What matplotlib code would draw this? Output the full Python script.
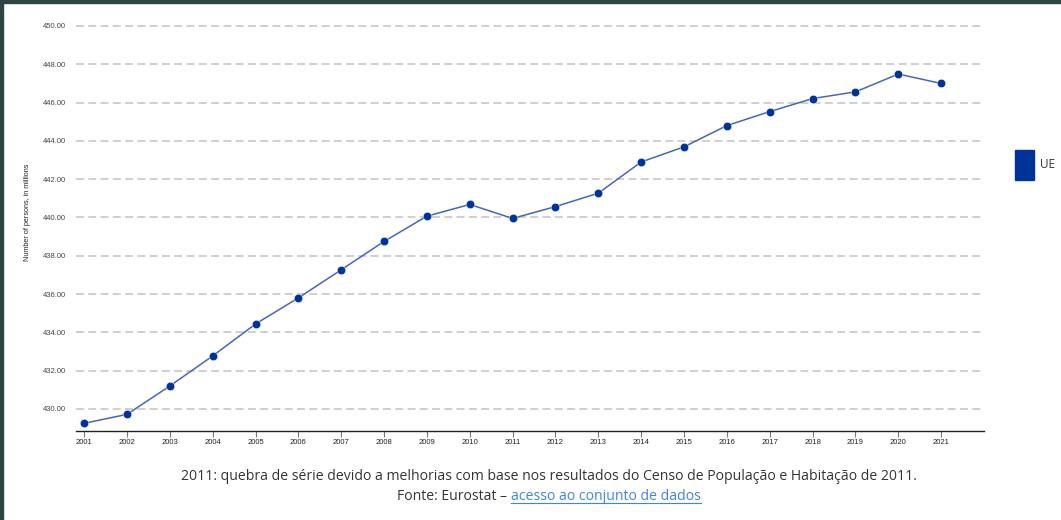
import matplotlib
matplotlib.use("Agg")
import matplotlib.pyplot as plt
from matplotlib.patches import Rectangle

# EU population, millions
years = list(range(2001, 2022))
population = [429.25, 429.72, 431.20, 432.77, 434.44, 435.80, 437.27,
              438.75, 440.07, 440.68, 439.95, 440.57, 441.27, 442.90,
              443.69, 444.80, 445.53, 446.21, 446.56, 447.49, 447.00]
yticks = [430, 432, 434, 436, 438, 440, 442, 444, 446, 448, 450]
series_name = "UE"
ylabel = "Number of persons, in millions"
note = ("2011: quebra de série devido a melhorias com base nos resultados "
        "do Censo de População e Habitação de 2011.")
source_prefix = "Fonte: Eurostat – "
source_link = "acesso ao conjunto de dados"

W, H = 1061, 520
fig = plt.figure(figsize=(W / 100, H / 100), dpi=100)
fig.patch.set_facecolor("white")

# dark page border on top and left
fig.patches.append(Rectangle((0, 1 - 3 / H), 1, 3 / H, transform=fig.transFigure,
                             color="#2f4544", zorder=0))
fig.patches.append(Rectangle((0, 0), 3 / W, 1, transform=fig.transFigure,
                             color="#2f4544", zorder=0))

ax = fig.add_axes([76 / W, 89 / H, (984 - 76) / W, (431 - 26) / H])

ax.plot(years, population, "-", color="#4466bb", linewidth=1.1, zorder=3)
ax.plot(years, population, "o", color="#003399", markersize=6,
        markeredgecolor="white", markeredgewidth=0.3, zorder=4)

ax.set_xlim(2000.81, 2022.0)
ax.set_ylim(428.85, 450)

ax.set_yticks(yticks)
ax.set_yticklabels(["%.2f" % v for v in yticks], fontsize=5.5,
                   family="Liberation Sans", color="#444444")
ax.tick_params(axis="y", length=0, pad=7)
ax.set_xticks(years)
ax.set_xticklabels([str(y) for y in years], fontsize=5.5,
                   family="Liberation Sans", color="#222222")
ax.tick_params(axis="x", length=4, width=0.8, color="#777777", pad=2)

ax.grid(axis="y", color="#cccccc", linestyle=(0, (4.4, 2.4)), linewidth=1.3)
for gl in ax.get_ygridlines():
    gl.set_clip_on(False)
ax.set_axisbelow(True)
for side in ["left", "right", "top"]:
    ax.spines[side].set_visible(False)
ax.spines["bottom"].set_color("#222222")
ax.spines["bottom"].set_linewidth(1.0)

fig.text(28 / W, 1 - 212 / H, ylabel, rotation=90, ha="center", va="center",
         fontsize=5.2, family="Liberation Sans", color="#222222")

# legend swatch
fig.patches.append(Rectangle((1015 / W, 1 - 180 / H), 19 / W, 30 / H,
                             transform=fig.transFigure, color="#003399"))
fig.text(1040 / W, 1 - 165 / H, series_name, ha="left", va="center",
         fontsize=8.5, family="Open Sans", color="#333333")

# footnotes
fig.text(549 / W, 1 - 477 / H, note, ha="center", va="center",
         fontsize=10.1, family="Open Sans", color="#333333")

renderer = fig.canvas.get_renderer()
t1 = fig.text(0, 1 - 497 / H, source_prefix, ha="left", va="center",
              fontsize=10.1, family="Open Sans", color="#333333")
t2 = fig.text(0, 1 - 497 / H, source_link, ha="left", va="center",
              fontsize=10.1, family="Open Sans", color="#3b82f6")
w1 = t1.get_window_extent(renderer).width / W
w2 = t2.get_window_extent(renderer).width / W
x0 = 549 / W - (w1 + w2) / 2
t1.set_x(x0)
t2.set_x(x0 + w1)
bb = t2.get_window_extent(renderer)
uy = (bb.y0 + 2) / H
fig.add_artist(plt.Line2D([x0 + w1, x0 + w1 + w2], [uy, uy],
                          transform=fig.transFigure, color="#3b82f6",
                          linewidth=0.8))

fig.savefig("out.png", dpi=100)
